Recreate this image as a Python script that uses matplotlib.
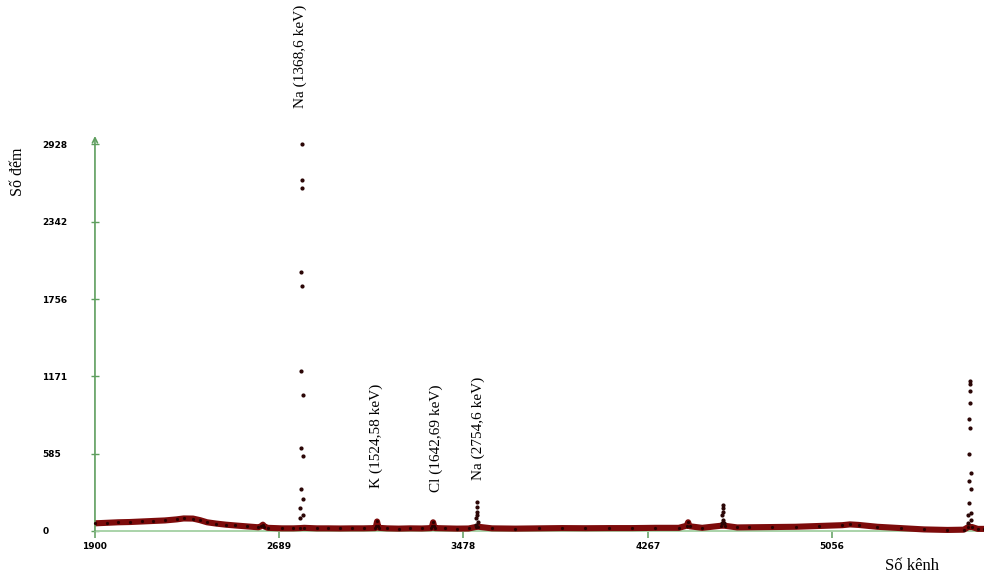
import matplotlib
matplotlib.use("Agg")
import matplotlib.pyplot as plt

# ---------------- data ----------------
# continuum (baseline) of the spectrum: channel, counts
base_channels = [1900, 1950, 2000, 2050, 2100, 2150, 2200, 2250, 2280, 2320,
                 2350, 2380, 2420, 2460, 2500, 2550, 2600, 2612, 2619, 2626,
                 2640, 2700, 2750, 2778, 2796, 2850, 2900, 2950, 3000, 3050,
                 3100, 3104, 3108, 3112, 3116, 3150, 3200, 3250, 3300, 3340,
                 3344, 3348, 3352, 3356, 3400, 3450, 3500, 3530, 3542, 3600,
                 3700, 3800, 3900, 4000, 4100, 4200, 4300, 4400, 4434, 4440,
                 4446, 4500, 4582, 4596, 4650, 4700, 4800, 4900, 5000, 5100,
                 5133, 5170, 5250, 5350, 5450, 5550, 5620, 5640, 5656, 5680,
                 5707]
base_counts = [58, 62, 66, 68, 72, 76, 80, 88, 95, 94,
               82, 66, 56, 48, 42, 35, 28, 36, 48, 34,
               24, 20, 20, 22, 24, 20, 20, 19, 20, 20,
               22, 40, 72, 40, 24, 20, 18, 20, 19, 22,
               38, 66, 38, 22, 20, 18, 19, 30, 32, 20,
               18, 20, 22, 21, 22, 22, 24, 24, 40, 66,
               36, 24, 40, 40, 27, 28, 30, 32, 38, 44,
               50, 46, 32, 22, 12, 8, 10, 30, 30, 16,
               16]

# individual channel counts in the strong peaks
na1_channels = [2779, 2780, 2781, 2782, 2783, 2784, 2785, 2786, 2787, 2788,
                2789, 2790, 2791, 2792]
na1_counts = [96, 177, 316, 626, 1214, 1958, 2657, 2927, 2599, 1855,
              1030, 570, 240, 121]

na2_channels = [3531, 3533, 3534, 3535, 3536, 3537, 3539]
na2_counts = [45, 96, 146, 222, 184, 121, 70]

p4589_channels = [4585, 4587, 4588, 4589, 4590, 4591, 4593]
p4589_counts = [60, 121, 174, 197, 144, 83, 60]

p5647_channels = [5639, 5640, 5641, 5642, 5643, 5644, 5645, 5646, 5647, 5648,
                  5649, 5650, 5651, 5652, 5653]
p5647_counts = [58, 121, 210, 381, 581, 846, 1060, 1138, 1113, 967,
                782, 437, 316, 134, 83]

x_ticks = [1900, 2689, 3478, 4267, 5056]
y_ticks = [0, 585, 1171, 1756, 2342, 2928]

peak_labels = ["Na (1368,6 keV)", "K (1524,58 keV)", "Cl (1642,69 keV)", "Na (2754,6 keV)"]
label_channels = [2780, 3106, 3360, 3540]
label_bottoms = [3202, 325, 295, 385]

# ---------------- figure ----------------
fig = plt.figure(figsize=(9.84, 5.81), dpi=100)
ax = fig.add_axes([0.0965, 50 / 581, 0.9035, 395 / 581])

ax.set_xlim(1900, 5707)
ax.set_ylim(0, 2990)

band = "#7d0b0b"
ax.plot(base_channels, base_counts, color=band, lw=4.4, solid_capstyle="butt",
        zorder=3, clip_on=False)
ax.plot(base_channels, base_counts, linestyle="none", marker="o", ms=1.3,
        color="#2a0000", zorder=4, clip_on=False)

for xs, ys in [(na1_channels, na1_counts), (na2_channels, na2_counts),
               (p4589_channels, p4589_counts), (p5647_channels, p5647_counts)]:
    ax.plot(xs, ys, linestyle="none", marker="o", ms=2.0, color="#2a0505",
            zorder=5, clip_on=False)

green = "#5e9e5e"
light_green = "#a9d3a9"
for s in ["top", "right", "left"]:
    ax.spines[s].set_visible(False)
ax.spines["bottom"].set_color(light_green)
ax.spines["bottom"].set_linewidth(1.4)

# y axis with arrow head
ax.annotate("", xy=(0, 1.0), xycoords="axes fraction", xytext=(0, 0),
            textcoords="axes fraction",
            arrowprops=dict(arrowstyle="->", color=green, lw=1.2,
                            mutation_scale=9, shrinkA=0, shrinkB=0))

ax.set_xticks(x_ticks)
ax.set_xticklabels([str(v) for v in x_ticks])
ax.set_yticks(y_ticks)
ax.set_yticklabels([str(v) for v in y_ticks])

ax.tick_params(axis="x", direction="out", length=5, width=1.1, color=green,
               pad=3, labelsize=6.5)
ax.tick_params(axis="y", direction="inout", length=6, width=1.0, color=green,
               pad=35, labelsize=6.5)
for lab in ax.get_xticklabels() + ax.get_yticklabels():
    lab.set_fontweight("bold")
    lab.set_family("DejaVu Sans")
for lab in ax.get_yticklabels():
    lab.set_horizontalalignment("left")

serif = "Liberation Serif"
for txt, cx, by in zip(peak_labels, label_channels, label_bottoms):
    ax.text(cx, by, txt, rotation=90, ha="center", va="bottom",
            family=serif, fontsize=11, clip_on=False)

fig.text(18 / 984, 1 - 172 / 581, "Số đếm", rotation=90, ha="center",
         va="center", family=serif, fontsize=11.5)
fig.text(912 / 984, 1 - 566 / 581, "Số kênh", ha="center", va="center",
         family=serif, fontsize=12)

fig.savefig("out.png", dpi=100)
